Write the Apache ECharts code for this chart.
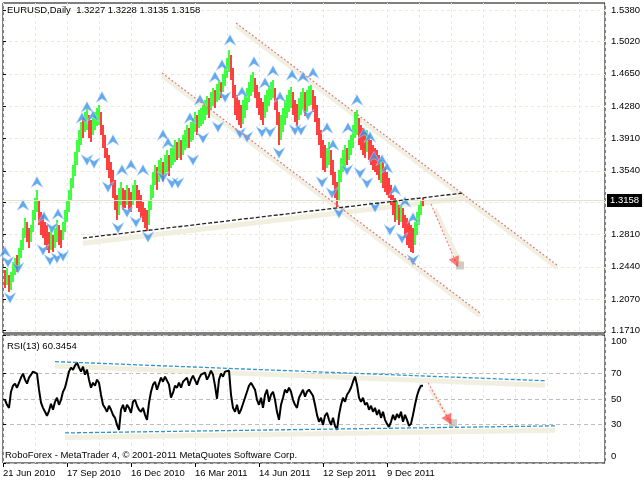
<!DOCTYPE html>
<html><head><meta charset="utf-8">
<script src="https://cdn.jsdelivr.net/npm/echarts@6/dist/echarts.min.js"></script>
<style>html,body{margin:0;padding:0;background:#fff}#c{width:644px;height:480px}</style>
</head><body><div id="c"></div>
<script>
// ---------- data ----------
const SYMBOL = 'EURUSD,Daily';
const LAST_OHLC = [1.3227, 1.3228, 1.3135, 1.3158];
const RSI_PERIOD = 13;
const RSI_LAST = 60.3454;
const COPYRIGHT = 'RoboForex - MetaTrader 4, \u00a9 2001-2011 MetaQuotes Software Corp.';
const DATE_LABELS = ['21 Jun 2010','17 Sep 2010','16 Dec 2010','16 Mar 2011','14 Jun 2011','12 Sep 2011','9 Dec 2011'];
const DATE_DAYS = [0, 64, 128, 192, 256, 320, 384];
const PRICE_TICKS = [1.1710,1.2070,1.2440,1.2810,1.3180,1.3540,1.3910,1.4280,1.4650,1.5020,1.5380];
const RSI_TICKS = [0, 30, 50, 70, 100];
const FIRST_DAY = 2, BAR_STEP = 2;

const HIGH = [
1.2404,1.2427,1.2347,1.2381,1.2496,1.2541,1.2576,1.2656,1.2748,1.2885,
1.2999,1.2954,1.2885,1.2920,1.3091,1.3229,1.3320,1.3206,1.3068,1.3034,
1.2954,1.2920,1.2839,1.2862,1.2805,1.2885,1.2977,1.2920,1.2862,1.2954,
1.3091,1.3206,1.3320,1.3457,1.3606,1.3755,1.3892,1.4007,1.4098,1.4144,
1.4213,1.4258,1.4179,1.4121,1.4144,1.4213,1.4258,1.4293,1.4213,1.4064,
1.3950,1.3801,1.3721,1.3640,1.3549,1.3434,1.3263,1.3343,1.3411,1.3343,
1.3320,1.3377,1.3343,1.3297,1.3377,1.3434,1.3377,1.3320,1.3263,1.3183,
1.3114,1.3091,1.3206,1.3377,1.3526,1.3606,1.3583,1.3663,1.3686,1.3640,
1.3721,1.3778,1.3721,1.3801,1.3835,1.3892,1.3869,1.3915,1.3892,1.3950,
1.4007,1.4064,1.4030,1.4098,1.4144,1.4213,1.4179,1.4236,1.4258,1.4293,
1.4350,1.4396,1.4373,1.4441,1.4487,1.4464,1.4533,1.4579,1.4556,1.4647,
1.4739,1.4830,1.4922,1.4865,1.4716,1.4521,1.4407,1.4350,1.4293,1.4350,
1.4407,1.4487,1.4556,1.4636,1.4670,1.4601,1.4521,1.4441,1.4373,1.4327,
1.4407,1.4464,1.4510,1.4556,1.4579,1.4487,1.4373,1.4213,1.4179,1.4258,
1.4350,1.4407,1.4464,1.4498,1.4441,1.4350,1.4304,1.4373,1.4441,1.4487,
1.4441,1.4464,1.4510,1.4521,1.4464,1.4396,1.4293,1.4144,1.4007,1.3892,
1.3835,1.3801,1.3869,1.3778,1.3663,1.3526,1.3411,1.3549,1.3686,1.3778,
1.3835,1.3801,1.3892,1.3950,1.4064,1.4213,1.4236,1.4144,1.4064,1.4030,
1.3984,1.4007,1.3950,1.3892,1.3835,1.3801,1.3778,1.3721,1.3663,1.3640,
1.3583,1.3526,1.3457,1.3377,1.3263,1.3229,1.3206,1.3149,1.3149,1.3114,
1.3034,1.3000,1.2954,1.2920,1.2885,1.2954,1.3068,1.3149,1.3206,1.3228];
const LOW = [
1.2198,1.2233,1.2153,1.2176,1.2267,1.2347,1.2381,1.2427,1.2541,1.2633,
1.2770,1.2725,1.2656,1.2725,1.2839,1.2977,1.3068,1.2920,1.2805,1.2770,
1.2691,1.2633,1.2599,1.2633,1.2610,1.2656,1.2725,1.2691,1.2656,1.2748,
1.2839,1.2954,1.3068,1.3206,1.3343,1.3480,1.3606,1.3755,1.3835,1.3915,
1.3984,1.4007,1.3915,1.3869,1.3950,1.4007,1.4052,1.4064,1.3950,1.3801,
1.3686,1.3549,1.3457,1.3377,1.3229,1.3091,1.2977,1.3034,1.3149,1.3091,
1.3114,1.3149,1.3091,1.3068,1.3149,1.3206,1.3114,1.3068,1.3000,1.2954,
1.2885,1.2851,1.2920,1.3091,1.3229,1.3377,1.3320,1.3411,1.3457,1.3411,
1.3492,1.3526,1.3480,1.3571,1.3606,1.3640,1.3663,1.3686,1.3663,1.3721,
1.3778,1.3801,1.3801,1.3869,1.3892,1.3984,1.3950,1.4030,1.4052,1.4075,
1.4121,1.4179,1.4144,1.4236,1.4281,1.4258,1.4327,1.4350,1.4373,1.4441,
1.4510,1.4601,1.4670,1.4579,1.4373,1.4179,1.4121,1.4064,1.4030,1.4075,
1.4144,1.4236,1.4327,1.4396,1.4441,1.4373,1.4258,1.4179,1.4121,1.4064,
1.4144,1.4213,1.4281,1.4350,1.4373,1.4236,1.4064,1.3835,1.3892,1.3984,
1.4064,1.4144,1.4213,1.4258,1.4179,1.4098,1.4052,1.4121,1.4179,1.4236,
1.4167,1.4213,1.4281,1.4293,1.4213,1.4098,1.3950,1.3835,1.3686,1.3549,
1.3526,1.3571,1.3606,1.3492,1.3377,1.3229,1.3126,1.3206,1.3411,1.3526,
1.3571,1.3606,1.3663,1.3721,1.3801,1.3915,1.3950,1.3835,1.3778,1.3721,
1.3686,1.3755,1.3663,1.3606,1.3549,1.3526,1.3492,1.3434,1.3400,1.3343,
1.3297,1.3263,1.3229,1.3149,1.3034,1.2954,1.2977,1.2920,1.2954,1.2885,
1.2770,1.2691,1.2656,1.2610,1.2599,1.2691,1.2805,1.2920,1.3034,1.3135];
const DIR = ('duduuuduuu'+'udduuuuddd'+'ddduduuddu'+'uuuuuuuuud'+'uudduuuudd'+
  'ddddddduud'+'dudduudddd'+'dduuuuduud'+'uuduuudud'+'u'+'uuduuuduuu'+
  'uuduuduudu'+'uuuddddddu'+'uuuuuddddd'+'uuuuuddduu'+'uuuuddduuu'+
  'duuudddddd'+'duudddduuu'+'uduuuuuddd'+'duddddddud'+'ddddddudud'+'ddddduuuud').split('');

const RSI = [
49.4,45.5,43.1,55.7,60.4,62.0,58.8,62.7,66.7,69.8,
65.1,62.0,66.7,69.0,71.4,72.9,69.8,57.3,47.1,43.1,
40.0,36.9,40.8,46.3,41.6,47.8,51.0,45.5,49.4,55.7,
58.8,65.1,71.4,74.5,72.9,76.1,78.4,74.5,71.4,75.3,
69.0,72.9,65.1,58.8,62.7,60.4,65.1,62.7,53.3,45.5,
43.1,40.0,44.7,41.6,37.6,35.3,29.8,25.9,41.6,45.5,
40.0,45.5,43.1,39.2,47.8,49.4,44.7,41.6,40.0,43.1,
37.6,33.7,47.1,55.7,61.2,63.5,57.3,62.0,66.7,63.5,
67.5,69.0,61.2,51.0,54.9,60.4,58.8,62.7,58.8,63.5,
65.1,66.7,60.4,65.1,68.2,66.7,61.2,65.9,69.0,67.5,
70.6,65.1,68.2,72.2,69.0,60.4,50.2,65.1,69.8,67.5,
71.4,72.9,72.2,53.3,43.1,40.0,45.5,38.4,41.6,46.3,
51.0,55.7,60.4,62.7,63.5,57.3,49.4,45.5,51.0,43.1,
53.3,57.3,47.8,53.3,55.7,49.4,40.0,33.7,45.5,51.0,
57.3,54.9,58.8,55.7,49.4,45.5,43.1,51.0,54.1,57.3,
51.8,55.7,57.3,58.0,52.5,45.5,37.6,32.2,35.3,29.8,
36.9,39.2,33.7,29.8,35.3,29.0,25.9,37.6,45.5,51.0,
47.8,53.3,55.7,58.8,63.5,67.5,61.2,51.0,47.8,51.0,
45.5,47.1,41.6,44.7,40.0,43.1,37.6,41.6,35.3,40.0,
33.7,30.6,28.2,32.2,37.6,33.7,38.4,35.3,40.0,32.2,
37.6,33.7,29.0,30.6,37.6,45.5,52.5,57.3,60.4,60.35];

// fractal markers (day, price)
const FR_UP_DAY   = [2,20,34,41,55,79,84,90,99,110,119,128,140,160,165,187,197,212,219,227,239,251,262,270,277,289,300,310,324,330,345,354,361,367,371,379,384,392,402,410];
const FR_UP_PRICE = [1.2610,1.3148,1.3411,1.3011,1.3046,1.4144,1.4270,1.4167,1.4384,1.3892,1.3549,1.3606,1.3549,1.3950,1.3858,1.4144,1.4350,1.4613,1.4750,1.5037,1.4441,1.4785,1.4544,1.4682,1.4384,1.4636,1.4613,1.4659,1.4030,1.3835,1.4030,1.4350,1.3972,1.3927,1.3698,1.3663,1.3572,1.3320,1.3183,1.2999];
const FR_DN_DAY   = [7,5,15,40,47,54,60,49,84,91,105,115,124,133,145,160,169,175,190,200,215,222,237,244,259,267,276,292,298,305,319,329,336,344,357,364,372,387,399,410];
const FR_DN_PRICE = [1.2084,1.2496,1.2427,1.2633,1.2519,1.2541,1.2564,1.2885,1.3663,1.3629,1.3354,1.2885,1.3068,1.2954,1.2782,1.3468,1.3400,1.3400,1.3663,1.3915,1.4041,1.4384,1.3972,1.3927,1.3984,1.3984,1.3743,1.4007,1.4007,1.4179,1.3411,1.3286,1.3057,1.3549,1.3514,1.3400,1.3126,1.2862,1.2770,1.2519];

// drawn objects (day, value)
const CHANNEL_UPPER = [[233, 1.5231], [554, 1.2461]];
const CHANNEL_LOWER = [[159, 1.4659], [477, 1.1912]];
const SUPPORT_LINE  = [[80, 1.2770], [460, 1.3285]];
const PRICE_ARROW   = [[428, 1.3159], [453, 1.2490]];
const RSI_UPPER     = [[52, 79.2], [542, 64.3]];
const RSI_LOWER     = [[62, 23.5], [552, 29.0]];
const RSI_ARROW     = [[425, 62.7], [446, 33.5]];

// ---------- chart ----------
const FONT = 'Liberation Sans, Arial, sans-serif';
const FS = 9.5;
const GRID_COL = '#ebead2';
const BAND_COL = '#f0efe0';
const chart = echarts.init(document.getElementById('c'), null, {renderer: 'canvas'});

const bars = HIGH.map((h, i) => [FIRST_DAY + BAR_STEP * i, LOW[i], h, DIR[i] === 'u' ? 1 : 0]);
const rsiData = RSI.map((v, i) => [FIRST_DAY + BAR_STEP * i, v]);
const upFr = FR_UP_DAY.map((d, i) => [d, FR_UP_PRICE[i]]);
const dnFr = FR_DN_DAY.map((d, i) => [d, FR_DN_PRICE[i]]);

function shift(seg, dy) { return seg.map(p => [p[0], p[1] + dy]); }

function bandSeries(data, xi, yi, w) {
  return {type: 'line', xAxisIndex: xi, yAxisIndex: yi, data: data, symbol: 'none', silent: true, z: 1,
          lineStyle: {color: BAND_COL, width: w}, animation: false};
}
function lineSeries(data, xi, yi, color, type, w, z) {
  return {type: 'line', xAxisIndex: xi, yAxisIndex: yi, data: data, symbol: 'none', silent: true, z: z || 5,
          lineStyle: {color: color, width: w, type: type}, animation: false};
}

const option = {
  backgroundColor: '#fff',
  animation: false,
  title: [
    {text: SYMBOL + '  ' + LAST_OHLC.map(v => v.toFixed(4)).join(' '), left: 7, top: 5, padding: 0,
     textStyle: {fontSize: FS, fontWeight: 'normal', color: '#000', fontFamily: FONT}},
    {text: 'RSI(' + RSI_PERIOD + ') ' + RSI_LAST.toFixed(4), left: 7, top: 341, padding: 0,
     textStyle: {fontSize: FS, fontWeight: 'normal', color: '#000', fontFamily: FONT}},
    {text: COPYRIGHT, left: 5, top: 450, padding: 0,
     textStyle: {fontSize: FS, fontWeight: 'normal', color: '#000', fontFamily: FONT}}
  ],
  grid: [
    {left: 3, top: 3, width: 602, height: 330, show: true, borderColor: '#000', borderWidth: 1, backgroundColor: '#fff'},
    {left: 3, top: 335, width: 602, height: 128, show: true, borderColor: '#000', borderWidth: 1, backgroundColor: '#fff'}
  ],
  xAxis: [
    {gridIndex: 0, type: 'value', min: 0, max: 602, interval: 32,
     axisLine: {show: false}, axisTick: {show: false}, axisLabel: {show: false},
     splitLine: {show: true, lineStyle: {color: GRID_COL, type: [3, 3]}}},
    {gridIndex: 1, type: 'value', min: 0, max: 602, interval: 32,
     axisLine: {show: false}, axisTick: {show: false}, axisLabel: {show: false},
     splitLine: {show: true, lineStyle: {color: GRID_COL, type: [3, 3]}}},
    {gridIndex: 1, type: 'value', min: 0, max: 602, position: 'bottom',
     axisLine: {show: false}, splitLine: {show: false},
     axisTick: {show: true, customValues: DATE_DAYS, length: 4, lineStyle: {color: '#000'}},
     axisLabel: {show: true, customValues: DATE_DAYS, align: 'left', margin: 5,
       fontSize: FS, color: '#000', fontFamily: FONT,
       formatter: v => DATE_LABELS[DATE_DAYS.indexOf(Math.round(v))] || ''}}
  ],
  yAxis: [
    {gridIndex: 0, type: 'value', position: 'right', min: 1.1683, max: 1.5460,
     axisLine: {show: false},
     axisTick: {show: true, customValues: PRICE_TICKS, length: 3, lineStyle: {color: '#000'}},
     axisLabel: {show: true, customValues: PRICE_TICKS, margin: 6, fontSize: FS, color: '#000', fontFamily: FONT,
       formatter: v => Math.abs(v - LAST_OHLC[3]) < 0.006 ? '' : v.toFixed(4)},
     splitLine: {show: true, lineStyle: {color: GRID_COL, type: [3, 3]}}},
    {gridIndex: 1, type: 'value', position: 'right', min: 0, max: 100,
     axisLine: {show: false},
     axisTick: {show: true, customValues: RSI_TICKS, length: 3, lineStyle: {color: '#000'}},
     axisLabel: {show: true, customValues: RSI_TICKS, margin: 6, fontSize: FS, color: '#000', fontFamily: FONT,
       formatter: v => v === 100 ? '{t|100}' : (v === 0 ? '{b|0}' : String(v)),
       rich: {t: {padding: [12, 0, 0, 0], fontSize: FS, color: '#000', fontFamily: FONT},
              b: {padding: [0, 0, 13, 0], fontSize: FS, color: '#000', fontFamily: FONT}}},
     splitLine: {show: true, lineStyle: {color: '#bdbdbd', type: [4, 3]}}}
  ],
  series: [
    // bid line + current price tag
    {type: 'line', xAxisIndex: 0, yAxisIndex: 0, data: [], silent: true, z: 1,
     markLine: {silent: true, symbol: 'none', animation: false,
       data: [{yAxis: LAST_OHLC[3]}],
       lineStyle: {color: '#e3e2cc', type: 'solid', width: 1},
       label: {show: true, position: 'end', distance: 2, formatter: LAST_OHLC[3].toFixed(4),
         backgroundColor: '#000', color: '#fff', padding: [2, 3, 1, 3], fontSize: FS, fontFamily: FONT}}},
    // beige glow bands
    bandSeries(shift(CHANNEL_UPPER, -0.0035), 0, 0, 4),
    bandSeries(shift(CHANNEL_LOWER, -0.0035), 0, 0, 4),
    bandSeries(shift(SUPPORT_LINE, -0.0060), 0, 0, 5),
    bandSeries([[432, 1.3100], [459, 1.2440]], 0, 0, 4),
    bandSeries(shift(RSI_UPPER, -3.5), 1, 1, 5),
    bandSeries(shift(RSI_LOWER, -3.5), 1, 1, 5),
    bandSeries([[427, 58.0], [449, 31.0]], 1, 1, 4),
    // price bars
    {type: 'custom', xAxisIndex: 0, yAxisIndex: 0, data: bars, z: 3, silent: true,
     renderItem: function (params, api) {
       const x = api.value(0);
       const lo = api.coord([x, api.value(1)]);
       const hi = api.coord([x, api.value(2)]);
       return {type: 'line', shape: {x1: lo[0], y1: lo[1], x2: hi[0], y2: hi[1]},
               style: {stroke: api.value(3) ? '#00ff00' : '#ff0000', lineWidth: 1.5}};
     }},
    // fractals
    {type: 'scatter', xAxisIndex: 0, yAxisIndex: 0, data: upFr, z: 4, silent: true,
     symbol: 'path://M5 0 L10 10 L5 6.5 L0 10 Z', symbolSize: [12, 11],
     itemStyle: {color: '#3d92ea', borderColor: '#c4e0fc', borderWidth: 0.6}},
    {type: 'scatter', xAxisIndex: 0, yAxisIndex: 0, data: dnFr, z: 4, silent: true,
     symbol: 'path://M0 0 L5 3.5 L10 0 L5 10 Z', symbolSize: [12, 11],
     itemStyle: {color: '#3d92ea', borderColor: '#c4e0fc', borderWidth: 0.6}},
    // drawn lines
    lineSeries(CHANNEL_UPPER, 0, 0, '#e07a7a', [2, 2], 1.2),
    lineSeries(CHANNEL_LOWER, 0, 0, '#e07a7a', [2, 2], 1.2),
    lineSeries(SUPPORT_LINE, 0, 0, '#222', [4, 2], 1.3),
    {type: 'scatter', xAxisIndex: 0, yAxisIndex: 0, data: [PRICE_ARROW[1]], z: 4, silent: true,
     symbol: 'rect', symbolSize: 8, symbolOffset: [4, 3], itemStyle: {color: '#c2c2b8'}},
    {type: 'lines', coordinateSystem: 'cartesian2d', xAxisIndex: 0, yAxisIndex: 0, z: 6, silent: true,
     data: [{coords: PRICE_ARROW}], symbol: ['none', 'triangle'], symbolSize: 11,
     lineStyle: {color: '#ff0000', type: [2, 2], width: 1.2}},
    // RSI
    lineSeries(RSI_UPPER, 1, 1, '#2f95c8', [4, 2], 1.3),
    lineSeries(RSI_LOWER, 1, 1, '#2f95c8', [4, 2], 1.3),
    {type: 'line', xAxisIndex: 1, yAxisIndex: 1, data: rsiData, symbol: 'none', z: 4, silent: true,
     lineStyle: {color: '#000', width: 2}},
    {type: 'scatter', xAxisIndex: 1, yAxisIndex: 1, data: [RSI_ARROW[1]], z: 4, silent: true,
     symbol: 'rect', symbolSize: 8, symbolOffset: [4, 3], itemStyle: {color: '#c2c2b8'}},
    {type: 'lines', coordinateSystem: 'cartesian2d', xAxisIndex: 1, yAxisIndex: 1, z: 6, silent: true,
     data: [{coords: RSI_ARROW}], symbol: ['none', 'triangle'], symbolSize: 11,
     lineStyle: {color: '#ff0000', type: [2, 2], width: 1.2}}
  ]
};
chart.setOption(option);
</script>
</body></html>
